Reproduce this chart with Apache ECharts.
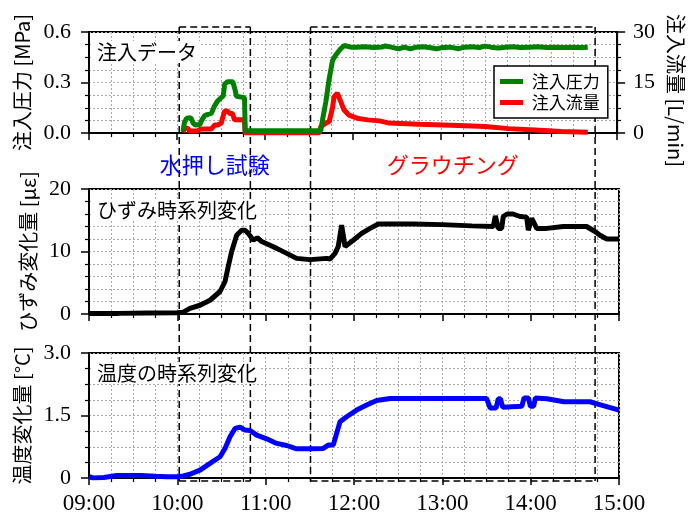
<!DOCTYPE html>
<html>
<head>
<meta charset="utf-8">
<script src="https://cdn.jsdelivr.net/npm/echarts@6/dist/echarts.min.js"></script>
<style>
  html, body { margin: 0; padding: 0; background: #fff; }
  #chart1 { width: 694px; height: 520px; }
</style>
</head>
<body>
<div id="chart1"></div>
<script>
// time is minutes from 00:00
var pressure = [
    [604.1, 0.01], [605, 0.06], [606.5, 0.088], [609.5, 0.09], [611, 0.058], [612.5, 0.048],
    [615.5, 0.05], [617, 0.078], [619, 0.105], [621, 0.11], [623.5, 0.118], [625.5, 0.16],
    [627.5, 0.188], [630, 0.21], [631.5, 0.22], [632.5, 0.29], [634.5, 0.305], [638, 0.305],
    [639.5, 0.26], [640.5, 0.218], [641.5, 0.21], [646, 0.21], [646.5, 0.014], [698, 0.014],
    [699, 0.068], [701.5, 0.188], [703.5, 0.31], [706, 0.43], [708, 0.46], [711.5, 0.5],
    [714, 0.52], [718.5, 0.51], [722, 0.51], [728, 0.513], [734, 0.508], [740, 0.511],
    [742, 0.517], [746, 0.51], [751, 0.5], [755, 0.51], [759, 0.5], [763, 0.51],
    [768, 0.512], [772, 0.508], [777, 0.5], [781, 0.508], [786, 0.51], [792, 0.501],
    [796, 0.51], [801, 0.512], [806, 0.508], [810, 0.516], [814, 0.51], [819, 0.505],
    [824, 0.51], [829, 0.512], [834, 0.508], [840, 0.51], [846, 0.512], [852, 0.508],
    [858, 0.51], [864, 0.508], [870, 0.51], [876, 0.508], [880, 0.51]
];
var flow = [
    [604.1, 0.2], [605, 1.4], [607.3, 1.4], [608.6, 0.6], [614, 0.6], [616, 1.2], [623.5, 1.2],
    [625.6, 2.4], [627.6, 2.4], [630.1, 2.9], [632.4, 6.5], [634.4, 6.5], [635.8, 5.8],
    [637.8, 5.8], [639.2, 3.9], [646, 3.9], [646.4, 0], [697, 0], [698, 1.9], [701.4, 2.9],
    [703.7, 3.4], [705.9, 7.3], [707.1, 10.8], [709.3, 11.8], [710.5, 11.5], [711.6, 9.3],
    [713.9, 6.8], [717.3, 5.3], [722.7, 4.4], [730, 3.9], [738, 3.6], [744, 3.0], [765, 2.6],
    [792, 2.2], [810, 1.9], [826, 1.3], [844, 0.9], [862, 0.45], [880, 0.2]
];
var strain = [
    [540, 0.1], [560, 0.1], [580, 0.15], [600, 0.2], [604, 0.3], [608.6, 0.9], [615.4, 1.4],
    [622.2, 2.2], [629, 3.6], [632.4, 5.2], [634.4, 7.4], [636.9, 10], [640.3, 12.6],
    [643.7, 13.4], [646, 13.4], [648.2, 12.9], [651.6, 11.8], [654.3, 12.2], [657.3, 11.6],
    [663, 11.0], [667.5, 10.5], [674.3, 9.7], [681, 8.9], [690.1, 8.7], [701.4, 8.9],
    [703.7, 8.8], [707.1, 9.7], [709.3, 10.8], [711.6, 14.2], [712.7, 14.2], [713.9, 10.8],
    [715, 10.7], [719.5, 11.8], [725.2, 12.9], [730.9, 13.7], [736.5, 14.4], [760, 14.4],
    [780, 14.3], [800, 14.1], [814.6, 14], [816, 15.7], [817.2, 15.7], [818, 13.7],
    [820.3, 13.7], [821.4, 15.6], [824, 16], [828, 16], [832.8, 15.6], [837.3, 15.5],
    [838.4, 13.4], [839.6, 13.4], [840.7, 15.3], [841.8, 14.8], [844.1, 13.7], [850.9, 13.7],
    [862.2, 14], [878, 14], [883.7, 13.2], [887.1, 12.6], [891.7, 12], [900, 12]
];
var temperature = [
    [540, 0.03], [543, 0.0], [550, 0.01], [559, 0.06], [575, 0.06], [585, 0.04], [593, 0.03],
    [600, 0.03], [604, 0.05], [608.6, 0.09], [615.4, 0.19], [622.2, 0.35], [629, 0.51],
    [632.4, 0.71], [635.8, 0.99], [639.2, 1.19], [642.6, 1.22], [646, 1.15], [649.4, 1.14],
    [653.9, 1.03], [660.7, 0.94], [667.5, 0.83], [674.3, 0.78], [681, 0.70], [690.1, 0.70],
    [699.1, 0.71], [702.5, 0.79], [705.9, 0.79], [708.2, 1.07], [710.5, 1.35], [715, 1.47],
    [721.8, 1.63], [728.6, 1.75], [735.4, 1.86], [744.5, 1.91], [780, 1.91], [810, 1.91],
    [812.5, 1.68], [816.5, 1.68], [818, 1.9], [819.5, 1.9], [821, 1.7], [834, 1.72],
    [835.5, 1.92], [838.5, 1.92], [839.8, 1.72], [842, 1.72], [843.2, 1.92], [851, 1.9],
    [862.7, 1.83], [880.3, 1.83], [885.1, 1.78], [900, 1.63]
];
// dashed boxes: water test, grouting
var boxes = [[601.5, 650], [691, 885]];
var boxLabels = ['水押し試験', 'グラウチング'];
var boxColors = ['#0000ff', '#ff0000'];
var panelTitles = ['注入データ', 'ひずみ時系列変化', '温度の時系列変化'];

var jp = '"Noto Sans CJK JP", sans-serif';
var serif = '"Liberation Serif", serif';

var dom = document.getElementById('chart1');
var myChart = echarts.init(dom);

function hhmm(v) {
    var h = Math.floor(v / 60), m = Math.round(v % 60);
    return (h < 10 ? '0' : '') + h + ':' + (m < 10 ? '0' : '') + m;
}

var gridLine = { show: true, lineStyle: { color: '#aaa', type: [2, 2], width: 1 } };
var grids = [
    { left: 89, right: 75, top: 32, height: 101 },
    { left: 89, right: 75, top: 189, height: 125 },
    { left: 89, right: 75, top: 353, height: 125 }
].map(function (g) {
    g.show = true;
    g.borderColor = '#000';
    g.borderWidth = 2;
    g.containLabel = false;
    return g;
});

var xAxes = [0, 1, 2].map(function (i) {
    return {
        type: 'value', gridIndex: i, min: 540, max: 900, interval: 60,
        axisLine: { show: true, onZero: false, lineStyle: { color: '#000', width: 2 } },
        axisTick: { show: true, length: 7, lineStyle: { color: '#000', width: 1.5 } },
        minorTick: { show: true, splitNumber: 4, length: 4, lineStyle: { color: '#000', width: 1.2 } },
        splitLine: gridLine,
        minorSplitLine: gridLine,
        axisLabel: {
            show: i === 2, formatter: hhmm, fontSize: 23, fontFamily: serif,
            color: '#000', margin: 14
        }
    };
});

function yAxis(grid, min, max, interval, minor, name, fmt) {
    return {
        type: 'value', gridIndex: grid, min: min, max: max, interval: interval,
        name: name, nameLocation: 'middle', nameGap: 49,
        nameTextStyle: { fontSize: 20, fontFamily: jp, color: '#000' },
        axisLine: { show: true, lineStyle: { color: '#000', width: 2 } },
        axisTick: { show: true, length: 8, lineStyle: { color: '#000', width: 1.5 } },
        minorTick: { show: true, splitNumber: minor, length: 4, lineStyle: { color: '#000', width: 1.2 } },
        splitLine: gridLine,
        minorSplitLine: gridLine,
        axisLabel: { formatter: fmt, fontSize: 22, fontFamily: serif, color: '#000', margin: 18 }
    };
}

var yAxes = [
    yAxis(0, 0, 0.6, 0.3, 4, '注入圧力 [MPa]', function (v) { return v.toFixed(1); }),
    yAxis(0, 0, 30, 15, 4, '注入流量 [L/min]', function (v) { return String(v); }),
    yAxis(1, 0, 20, 10, 5, 'ひずみ変化量 [με]', function (v) { return String(v); }),
    yAxis(2, 0, 3, 1.5, 4, '温度変化量 [°C]', function (v) { return v === 0 ? '0' : v.toFixed(1); })
];
yAxes[1].position = 'right';
yAxes[1].nameRotate = -90;
yAxes[1].nameGap = 46;
yAxes[1].nameTextStyle.padding = [0, 0, 0, 16];
yAxes[1].splitLine = { show: false };
yAxes[1].minorSplitLine = { show: false };
yAxes[1].axisLabel.margin = 16;

function lineSeries(name, data, x, y, color) {
    return {
        name: name, type: 'line', xAxisIndex: x, yAxisIndex: y, data: data,
        symbol: 'none', smooth: false, color: color,
        lineStyle: { width: 5, color: color }
    };
}

var titleTops = [41, 199, 362];

var option = {
    animation: false,
    grid: grids,
    xAxis: xAxes,
    yAxis: yAxes,
    title: panelTitles.map(function (t, i) {
        return {
            text: t, left: 93, top: titleTops[i], padding: [1, 4],
            backgroundColor: '#fff',
            textStyle: { fontSize: 20, fontWeight: 'normal', fontFamily: jp, color: '#000' }
        };
    }),
    legend: {
        data: ['注入圧力', '注入流量'],
        orient: 'vertical', left: 494, top: 66,
        icon: 'rect',
        padding: [7, 8, 7, 6], itemGap: 4, itemWidth: 23, itemHeight: 5,
        backgroundColor: '#fff', borderColor: '#000', borderWidth: 1.5,
        formatter: function (name) { return ' ' + name; },
        textStyle: { fontSize: 17, fontFamily: jp, color: '#000' }
    },
    series: [
        lineSeries('注入流量', flow, 0, 1, '#ff0000'),
        lineSeries('注入圧力', pressure, 0, 0, '#008000'),
        lineSeries('ひずみ', strain, 1, 2, '#000000'),
        lineSeries('温度', temperature, 2, 3, '#0000ff')
    ]
};

if (option && typeof option === 'object') {
    myChart.setOption(option);
}

// dashed boxes across all three panels, x from the time scale
function drawBoxes() {
    var yTop = 27, yBot = 481;
    var els = [];
    function seg(x1, y1, x2, y2) {
        return {
            type: 'line', z: 1, silent: true,
            shape: { x1: x1, y1: y1, x2: x2, y2: y2 },
            style: { stroke: '#000', lineWidth: 1.5, lineDash: [7, 4] }
        };
    }
    boxes.forEach(function (b, i) {
        var x1 = myChart.convertToPixel({ xAxisIndex: 0 }, b[0]);
        var x2 = myChart.convertToPixel({ xAxisIndex: 0 }, b[1]);
        els.push(seg(x1, yTop, x2, yTop));
        els.push(seg(x1, yTop, x1, yBot));
        els.push(seg(x2, yTop, x2, yBot));
        els.push(seg(x1, yBot, x2, yBot));
        els.push({
            type: 'text', z: 3, silent: true,
            x: (x1 + x2) / 2, y: 165,
            style: {
                text: boxLabels[i], fill: boxColors[i], fontSize: 22, fontFamily: jp,
                align: 'center', verticalAlign: 'middle'
            }
        });
    });
    myChart.setOption({ graphic: els });
}
drawBoxes();

window.addEventListener('resize', function () {
    myChart.resize();
    drawBoxes();
});
</script>
</body>
</html>
